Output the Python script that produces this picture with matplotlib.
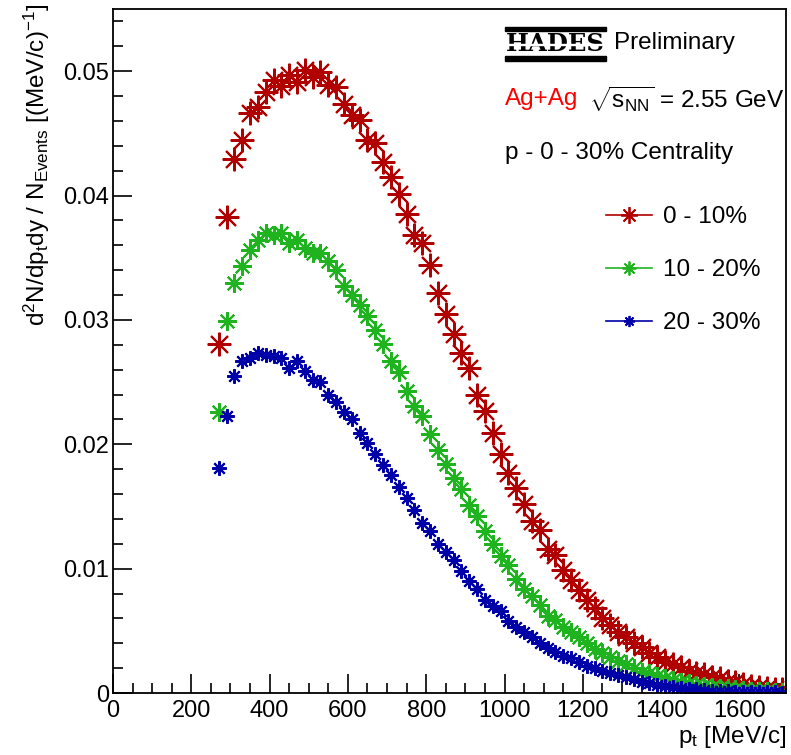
import numpy as np
import matplotlib
matplotlib.use("Agg")
import matplotlib.pyplot as plt
from matplotlib.lines import Line2D
from matplotlib.patches import Rectangle
from matplotlib.ticker import MultipleLocator, FuncFormatter

plt.rcParams['font.family'] = ['Liberation Sans', 'DejaVu Sans']
plt.rcParams['mathtext.fontset'] = 'custom'
plt.rcParams['mathtext.rm'] = 'Liberation Sans'
plt.rcParams['mathtext.it'] = 'Liberation Sans'
plt.rcParams['mathtext.bf'] = 'Liberation Sans:bold'
plt.rcParams['mathtext.default'] = 'regular'

# ---- data ----
pt = np.arange(270, 1720, 20)  # bin centres [MeV/c]
bin_half = 10

c0_10 = [0.0281, 0.0383, 0.0429, 0.0445, 0.0466, 0.0471, 0.0483, 0.0493, 0.0488, 0.0497,
         0.0491, 0.0501, 0.0495, 0.0499, 0.0489, 0.0487, 0.0474, 0.0465, 0.0461, 0.0445,
         0.0442, 0.0427, 0.0415, 0.0401, 0.0385, 0.0368, 0.0362, 0.0344, 0.0322, 0.0305,
         0.0289, 0.0273, 0.0261, 0.0240, 0.0227, 0.0209, 0.0192, 0.0177, 0.0165, 0.0152,
         0.0138, 0.0131, 0.0116, 0.0111, 0.0099, 0.0091, 0.0083, 0.0075, 0.0068, 0.0060,
         0.0055, 0.0049, 0.0045, 0.0040, 0.0037, 0.0032, 0.0029, 0.0025, 0.0023, 0.0021,
         0.0018, 0.0016, 0.0015, 0.0013, 0.0012, 0.0010, 0.00085, 0.00072, 0.0006, 0.00051,
         0.00043, 0.00036, 0.0003]

c10_20 = [0.0226, 0.0299, 0.0330, 0.0343, 0.0356, 0.0364, 0.0370, 0.0368, 0.0370, 0.0362,
          0.0364, 0.0358, 0.0354, 0.0354, 0.0347, 0.0340, 0.0327, 0.0320, 0.0312, 0.0303,
          0.0292, 0.0281, 0.0267, 0.0258, 0.0243, 0.0231, 0.0223, 0.0208, 0.0195, 0.0184,
          0.0173, 0.0164, 0.0151, 0.0142, 0.0130, 0.0120, 0.0110, 0.0103, 0.0092, 0.0084,
          0.0078, 0.0071, 0.0062, 0.0059, 0.0053, 0.0049, 0.0045, 0.0040, 0.0035, 0.0032,
          0.0029, 0.0026, 0.0023, 0.0020, 0.0017, 0.0016, 0.0014, 0.0012, 0.00105, 0.0009,
          0.00078, 0.00064, 0.00056, 0.0005, 0.00043, 0.00038, 0.0003, 0.00024, 0.0002, 0.00016,
          0.00014, 0.00011, 0.0001]

c20_30 = [0.0181, 0.0223, 0.0255, 0.0267, 0.0269, 0.0273, 0.0272, 0.0271, 0.0269, 0.0261,
          0.0267, 0.0259, 0.0252, 0.0250, 0.0240, 0.0234, 0.0226, 0.0220, 0.0209, 0.0201,
          0.0192, 0.0183, 0.0175, 0.0166, 0.0157, 0.0147, 0.0137, 0.0130, 0.0120, 0.0113,
          0.0107, 0.0098, 0.0090, 0.0084, 0.0075, 0.0070, 0.0066, 0.0058, 0.0053, 0.0049,
          0.0045, 0.0040, 0.0036, 0.0033, 0.0030, 0.0028, 0.0025, 0.0022, 0.0020, 0.0018,
          0.0016, 0.00145, 0.0013, 0.0011, 0.0009, 0.0008, 0.00065, 0.00056, 0.00048, 0.0004,
          0.00035, 0.0003, 0.00025, 0.0002, 0.00016, 0.00014, 0.00011, 0.0001, 0.00008, 0.00007,
          0.00006, 0.00005, 0.00004]

labels = ['0 - 10%', '10 - 20%', '20 - 30%']
colors = ['#b00000', '#1fb41f', '#0000a8']
msizes = [17, 13.5, 10.5]
lmsizes = [12, 10, 8]

# ---- figure ----
W, H = 791, 755
fig = plt.figure(figsize=(W / 100, H / 100), dpi=100)
ax = fig.add_axes([113 / W, 1 - 693 / H, (786 - 113) / W, (693 - 9) / H])

ast = (8, 2, 0)
for y, c, ms in zip([c0_10, c10_20, c20_30], colors, msizes):
    ax.errorbar(pt, y, xerr=bin_half, fmt='none', ecolor=c, elinewidth=1.0, capsize=0)
    ax.plot(pt, y, linestyle='none', marker=ast, markersize=ms,
            markeredgewidth=1.5, color=c)

ax.set_xlim(0, 1719)
ax.set_ylim(0, 0.055)
ax.xaxis.set_major_locator(MultipleLocator(200))
ax.xaxis.set_minor_locator(MultipleLocator(50))
ax.yaxis.set_major_locator(MultipleLocator(0.01))
ax.yaxis.set_minor_locator(MultipleLocator(0.002))
ax.yaxis.set_major_formatter(FuncFormatter(lambda v, p: '0' if abs(v) < 1e-9 else f'{v:.2f}'))
ax.tick_params(which='both', direction='in', top=False, right=False, width=1.2,
               labelsize=17, colors='black')
ax.tick_params(which='major', length=14)
ax.tick_params(which='minor', length=7)
ax.tick_params(axis='x', pad=5)
ax.tick_params(axis='y', pad=3)
for s in ax.spines.values():
    s.set_linewidth(1.3)

fig.text(786 / W, 1 - 743 / H, r'p$_{t}$ [MeV/c]', ha='right', va='baseline', fontsize=17.5)
fig.text(37 / W, 1 - 4 / H, r'd$^{2}$N/dp$_{t}$dy / N$_{Events}$ [(MeV/c)$^{-1}$]',
         rotation=90, ha='center', va='top', fontsize=17.5)

# HADES logo
fig.patches.append(Rectangle((505 / W, 1 - 31 / H), 101 / W, 4 / H,
                             transform=fig.transFigure, color='black'))
fig.patches.append(Rectangle((505 / W, 1 - 61 / H), 101 / W, 5 / H,
                             transform=fig.transFigure, color='black'))
fig.text(555.5 / W, 1 - 44 / H, 'HADES', ha='center', va='center', fontsize=17.5,
         fontweight='heavy', family='DejaVu Serif', color='black')
fig.patches.append(Rectangle((505 / W, 1 - 45 / H), 101 / W, 1.5 / H,
                             transform=fig.transFigure, color='white', zorder=5))
fig.text(614 / W, 1 - 43 / H, 'Preliminary', ha='left', va='center', fontsize=17.5)

fig.text(505 / W, 1 - 99 / H, 'Ag+Ag', ha='left', va='center', fontsize=17.5, color='#ff0000')
fig.text(589 / W, 1 - 99 / H, r'$\sqrt{s_{NN}}$ = 2.55 GeV', ha='left', va='center', fontsize=17.5)
fig.text(505 / W, 1 - 153 / H, 'p - 0 - 30% Centrality', ha='left', va='center', fontsize=17.5)

handles = [Line2D([0], [0], color=c, lw=1.2, marker=ast, markersize=m, markeredgewidth=1.3)
           for c, m in zip(colors, lmsizes)]
ax.legend(handles, labels, loc='upper left', bbox_to_anchor=(606 / W, 1 - 206 / H),
          bbox_transform=fig.transFigure, frameon=False, fontsize=17.5,
          handlelength=1.9, handletextpad=0.45, labelspacing=1.28,
          borderpad=0, borderaxespad=0)

fig.savefig('out.png', dpi=100)
